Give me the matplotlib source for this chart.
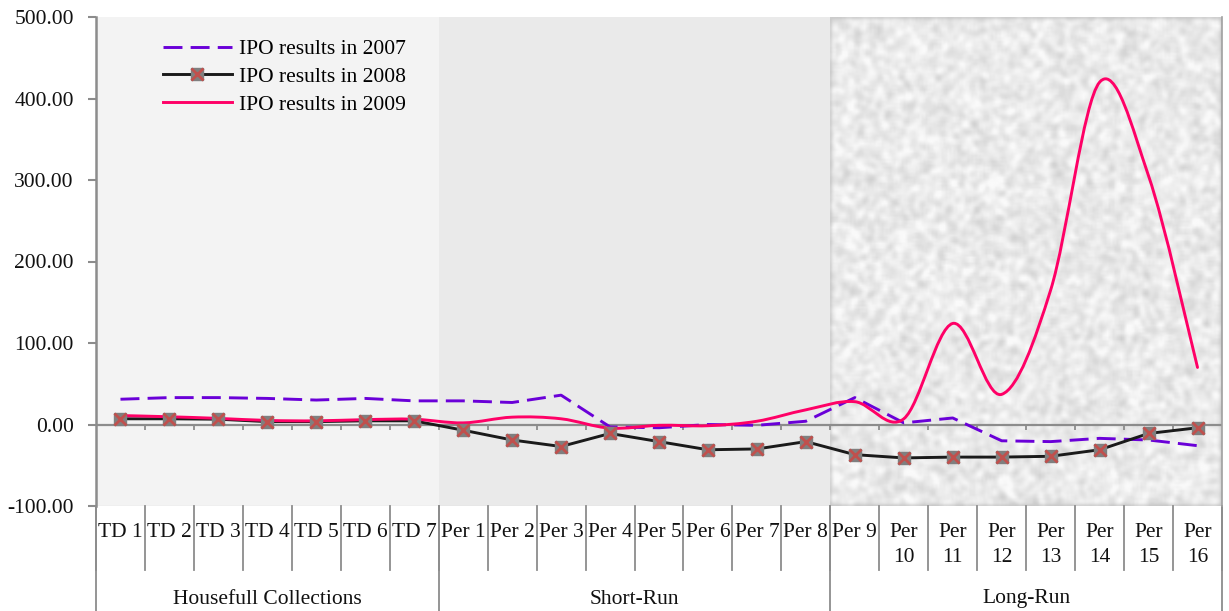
import numpy as np
import matplotlib
matplotlib.use("Agg")
import matplotlib.pyplot as plt
from matplotlib.path import Path
from matplotlib.patches import PathPatch, Rectangle
from matplotlib.lines import Line2D
from matplotlib.legend_handler import HandlerTuple
import matplotlib.transforms as mtrans

# ---------------- data ----------------
categories = ["TD 1", "TD 2", "TD 3", "TD 4", "TD 5", "TD 6", "TD 7",
              "Per 1", "Per 2", "Per 3", "Per 4", "Per 5", "Per 6", "Per 7", "Per 8",
              "Per 9", "Per\n10", "Per\n11", "Per\n12", "Per\n13", "Per\n14", "Per\n15", "Per\n16"]
groups = ["Housefull Collections", "Short-Run", "Long-Run"]
group_sizes = [7, 8, 8]

ipo_2007 = [31, 33, 33, 32, 30, 32, 29,
            29, 27, 36, -3, -4, 0, -1, 4,
            33, 2, 8, -20, -21, -17, -19, -26]
ipo_2008 = [7, 7, 6.5, 3.5, 3.5, 4.5, 4.5,
            -7, -19, -27, -11, -21, -31, -30, -21,
            -37, -41, -40, -40, -39, -31, -11, -4]
ipo_2009 = [11, 9.5, 7.5, 5, 4.5, 6, 6.5,
            2, 9, 7, -4.5, -1, -1.5, 4, 18,
            28, 7, 124, 37, 165, 420, 305, 70]

yticks = [-100, 0, 100, 200, 300, 400, 500]

plt.rcParams['font.family'] = ['Liberation Serif', 'DejaVu Serif']
FS = 15.5

fig = plt.figure(figsize=(12.29, 6.11), dpi=100)
L, R, T, B = 96, 1222, 17, 506
W, H = 1229, 611
ax = fig.add_axes([L / W, 1 - B / H, (R - L) / W, (B - T) / H])
n = len(categories)
x = np.arange(n)
ax.set_xlim(-0.5, n - 0.5)
ax.set_ylim(-100, 500)

# ---------------- backgrounds ----------------
bounds = np.cumsum([0] + group_sizes) - 0.5
ax.add_patch(Rectangle((bounds[0], -100), bounds[1] - bounds[0], 600, color="#f3f3f3", zorder=0, lw=0))
ax.add_patch(Rectangle((bounds[1], -100), bounds[2] - bounds[1], 600, color="#eaeaea", zorder=0, lw=0))
# texture for long-run region (deterministic hash noise)
ny, nx = 245, 197
ii, jj = np.mgrid[0:ny, 0:nx].astype(float)
h = np.sin(ii * 12.9898 + jj * 78.233) * 43758.5453
h = h - np.floor(h)
k = np.ones(3) / 3
for _ in range(2):
    h = np.apply_along_axis(lambda r: np.convolve(r, k, mode="same"), 0, h)
    h = np.apply_along_axis(lambda r: np.convolve(r, k, mode="same"), 1, h)
h = (h - h.mean()) / h.std()
tex = np.clip(0.915 + 0.03 * h, 0.80, 0.98)
ax.imshow(tex, cmap="gray", vmin=0, vmax=1, extent=(bounds[2], bounds[3], -100, 500),
          aspect="auto", interpolation="bilinear", zorder=0)

# ---------------- axes styling ----------------
for s in ["top", "bottom"]:
    ax.spines[s].set_visible(False)
ax.spines["left"].set_color("#8c8c8c")
ax.spines["left"].set_linewidth(1.8)
ax.spines["right"].set_color("#a0a0a0")
ax.spines["right"].set_linewidth(1.2)
ax.set_yticks(yticks)
ax.set_yticklabels([f"{v:.2f}" for v in yticks], fontsize=FS, color="#111111")
ax.tick_params(axis="y", length=6, width=1.5, color="#8c8c8c", pad=10)
ax.set_xticks([])
ax.axhline(-100, color="#b8b8b8", lw=0.8, zorder=1)

# zero axis line with tick marks
ax.axhline(0, color="#8c8c8c", lw=1.6, zorder=2)
ax.vlines(x[:-1] + 0.5, -6.5, 0, color="#8c8c8c", lw=1.3, zorder=2)

# ---------------- series ----------------
def smooth_path(xs, ys):
    pts = np.column_stack([xs, ys]).astype(float)
    verts = [pts[0]]
    codes = [Path.MOVETO]
    m = len(pts)
    for i in range(m - 1):
        p0 = pts[max(i - 1, 0)]
        p1 = pts[i]
        p2 = pts[i + 1]
        p3 = pts[min(i + 2, m - 1)]
        c1 = p1 + (p2 - p0) / 6.0
        c2 = p2 - (p3 - p1) / 6.0
        verts += [c1, c2, p2]
        codes += [Path.CURVE4] * 3
    return Path(verts, codes)

c07, c08, c09 = "#6a00d8", "#1a1a1a", "#ff0066"
LW = 2.1
DASH = (6.5, 2.8)
MS = 8.5
ax.plot(x, ipo_2007, color=c07, lw=LW, dashes=DASH, zorder=4)
ax.plot(x, ipo_2008, color=c08, lw=LW, zorder=5)
ax.plot(x, ipo_2008, ls="none", marker="s", ms=MS, mfc="#7f7f7f", mec="#7f7f7f", zorder=6)
ax.plot(x, ipo_2008, ls="none", marker="x", ms=MS, mew=2.0, color="#c0504d", zorder=7)
ax.add_patch(PathPatch(smooth_path(x, ipo_2009), fill=False, edgecolor=c09, lw=LW, zorder=5,
                       capstyle="round", joinstyle="round"))

# ---------------- legend ----------------
h07 = Line2D([], [], color=c07, lw=LW, dashes=DASH)
h08a = Line2D([], [], color=c08, lw=LW, marker="s", ms=MS, mfc="#7f7f7f", mec="#7f7f7f")
h08b = Line2D([], [], ls="none", marker="x", ms=MS, mew=2.0, color="#c0504d")
h09 = Line2D([], [], color=c09, lw=LW)
ax.legend([h07, (h08a, h08b), h09],
          ["IPO results in 2007", "IPO results in 2008", "IPO results in 2009"],
          handler_map={tuple: HandlerTuple(ndivide=1)},
          loc="upper left", bbox_to_anchor=((163 - L) / (R - L), 1 - (39 - T) / (B - T)),
          frameon=False, fontsize=FS, borderpad=0, borderaxespad=0,
          handlelength=3.2, handletextpad=0.35, labelspacing=0.36)

# ---------------- multi-level category axis ----------------
tr = mtrans.blended_transform_factory(ax.transData, ax.transAxes)
def ay(py):
    return 1 - (py - T) / (B - T)

lvl1_bottom = ay(570)
lvl2_bottom = ay(611)
for b in np.arange(n + 1) - 0.5:
    ax.plot([b, b], [0, lvl1_bottom], transform=tr, color="#8c8c8c", lw=1.3, clip_on=False)
for b in bounds:
    ax.plot([b, b], [0, lvl2_bottom], transform=tr, color="#8c8c8c", lw=1.3, clip_on=False)
for xi, lab in zip(x, categories):
    ax.text(xi, ay(523), lab, transform=tr, ha="center", va="top", fontsize=FS,
            linespacing=1.42, color="#111111", clip_on=False)
for gi, g in enumerate(groups):
    ax.text((bounds[gi] + bounds[gi + 1]) / 2, ay(599), g, transform=tr, ha="center",
            va="center", fontsize=FS, color="#111111", clip_on=False)

fig.savefig("out.png", dpi=100)
